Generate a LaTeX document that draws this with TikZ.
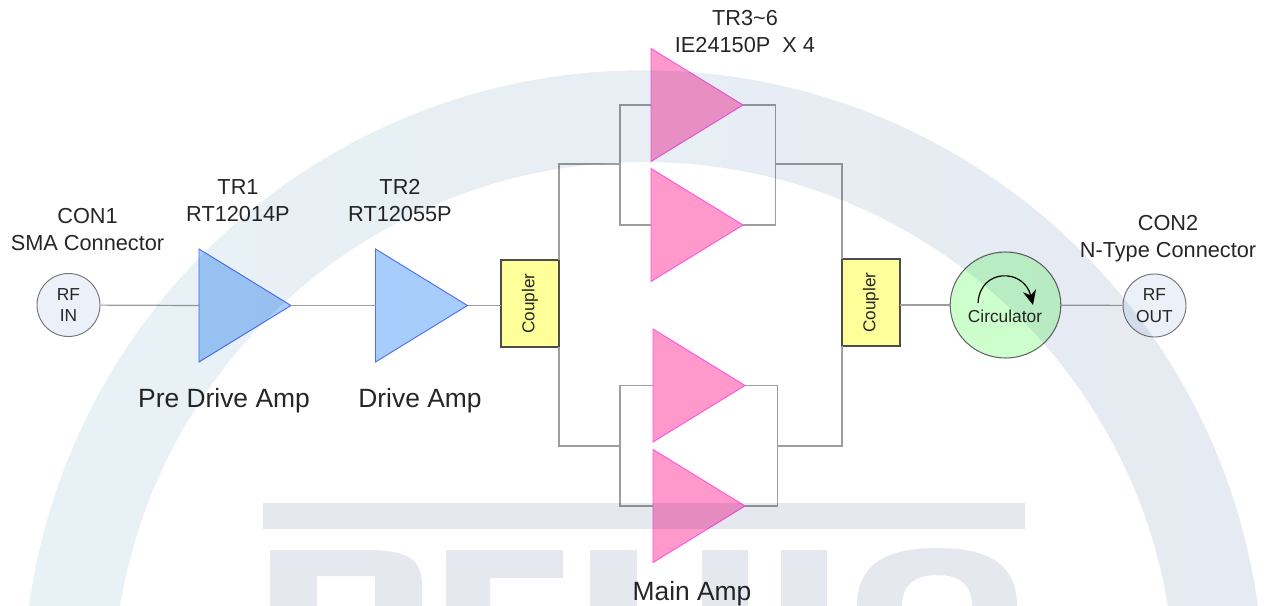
\documentclass[tikz,border=0pt]{standalone}
\usepackage{fontspec}
\setmainfont{Liberation Sans}
\usetikzlibrary{arrows.meta,shapes.geometric}
\definecolor{wirecol}{HTML}{9E9E9E}
\definecolor{txtcol}{HTML}{262626}
\definecolor{markL}{HTML}{E8F2F6}
\definecolor{markR}{HTML}{E6EAF2}
\definecolor{markB}{HTML}{E6E8EF}
\definecolor{pink1}{HTML}{FF99CC}
\definecolor{pink2}{HTML}{FF55E0}
\definecolor{blue1}{HTML}{A6CDFB}
\definecolor{blue2}{HTML}{4F6FF0}
\definecolor{portcol}{HTML}{ECF0F8}
\definecolor{yel1}{HTML}{FFFF99}
\definecolor{grn1}{HTML}{CCFFCC}
\tikzset{
    % 1 unit is one pixel of the sheet
    wire/.style={draw=wirecol, line width=0.9pt},
    amp/.style={
           isosceles triangle,
           isosceles triangle stretches,
           shape border rotate=0,
           anchor=apex,
           minimum width=84.75pt,
           minimum height=69pt,
           inner sep=0pt,
           outer sep=0pt,
           line width=0.7pt},
    blueamp/.style={amp, draw=blue2, fill=blue1},
    pinkamp/.style={amp, draw=pink2, fill=pink1},
    port/.style={
           circle,
           draw=black!55,
           fill=portcol,
           line width=0.7pt,
           minimum size=47.25pt,
           inner sep=0pt,
           align=center,
           text=txtcol,
           font=\fontsize{13}{16}\selectfont},
    coupler/.style={
           rectangle,
           draw=black!70,
           fill=yel1,
           line width=1pt,
           minimum width=43.5pt,
           minimum height=65pt,
           inner sep=0pt,
           outer sep=0pt},
    small/.style={align=center, text=txtcol, font=\fontsize{16.3}{20.25}\selectfont},
    big/.style={text=txtcol, font=\fontsize{19.8}{24}\selectfont}
}
\begin{document}
\begin{tikzpicture}[x=0.75pt,y=-0.75pt]
\useasboundingbox (0,0) rectangle (1268,606);

\node[port] (rfin) at (68.5,305) {RF\\IN};
\node[blueamp] (tr1) at (291,305.5) {};
\node[blueamp] (tr2) at (467.5,305.5) {};
\node[coupler] (cpl1) at (530,303.5) {};
\node[coupler] (cpl2) at (871,302.5) {};
\node[rotate=90, text=txtcol, font=\fontsize{12.9}{15}\selectfont] (cpl1txt) at (530,303.5) {Coupler};
\node[rotate=90, text=txtcol, font=\fontsize{12.9}{15}\selectfont] (cpl2txt) at (871,302.5) {Coupler};
\node[ellipse, draw=black!60, fill=grn1, line width=0.8pt, minimum width=83pt, minimum height=79.5pt, inner sep=0pt] (circ) at (1005.5,305) {};
\node[port] (rfout) at (1154.5,305.5) {RF\\OUT};

\node[pinkamp] (tr3) at (743,105) {};
\node[pinkamp] (tr4) at (743,225) {};
\node[pinkamp] (tr5) at (745,385.5) {};
\node[pinkamp] (tr6) at (745,506) {};

% junctions on the splitter and combiner rails
\coordinate (jl1) at (620,164);
\coordinate (jl2) at (620,446);
\coordinate (jr1) at (775.5,164);
\coordinate (jr2) at (777.5,446);

\draw[wire] (rfin) -- (tr1.lower side);
\draw[wire] (tr1.apex) -- (tr2.lower side);
\draw[wire] (tr2.apex) -- (tr2.apex -| cpl1.west);
\draw[wire] (cpl2.east |- circ) -- (circ);
\draw[wire] (circ) -- (rfout);

\draw[wire] (tr3.lower side) -| (jl1) |- (tr4.lower side);
\draw[wire] (tr3.apex) -| (jr1) |- (tr4.apex);
\draw[wire] (tr5.lower side) -| (jl2) |- (tr6.lower side);
\draw[wire] (tr5.apex) -| (jr2) |- (tr6.apex);
\draw[wire] (cpl1.north east) |- (jl1);
\draw[wire] (cpl1.south east) |- (jl2);
\draw[wire] (cpl2.north west) |- (jr1);
\draw[wire] (cpl2.south west) |- (jr2);

% arrow inside the circulator
\coordinate (arcs) at (978,303);
\coordinate (arce) at (1033,305);
\draw[black, line width=0.9pt, -{Stealth[length=11pt,width=10pt]}] (arcs) .. controls (980,268) and (1024,268) .. (arce);
\node[font=\fontsize{13}{15}\selectfont, text=txtcol] (circtxt) at (1005,316) {Circulator};

\node[small] (con1) at (87.5,230) {CON1\\SMA Connector};
\node[small] (lab1) at (238,201) {TR1\\RT12014P};
\node[small] (lab2) at (400,201) {TR2\\RT12055P};
\node[small] (lab3) at (745,32) {TR3\textasciitilde6\\IE24150P\ \ X 4};
\node[small] (con2) at (1168,238.5) {CON2\\N-Type Connector};
\node[big] (pre) at (224,401) {Pre Drive Amp};
\node[big] (drv) at (420,401) {Drive Amp};
\node[big] (mainamp) at (692,594) {Main Amp};

% watermark, laid over everything
\begin{scope}[blend mode=multiply]
\clip (0,0) rectangle (1268,606);
\path[even odd rule, left color=markL, right color=markR] (643.5,690.3) circle (620) (644,693) circle (531);
\fill[markB] (263,503) rectangle (1025,529);
% R
\fill[markB] (270,620) -- (270,550) -- (368,550) .. controls (405,550) and (422,558) .. (422,585) -- (422,620) -- (375,620) -- (375,576) -- (317,576) -- (317,620) -- cycle;
% F
\fill[markB] (446,620) -- (446,550) -- (563,550) -- (563,578) -- (490,578) -- (490,620) -- cycle;
% H and I
\fill[markB] (590,550) rectangle (637,620);
\fill[markB] (702,550) rectangle (748,620);
\fill[markB] (781,550) rectangle (827,620);
% C
\fill[markB] (857,620) -- (857,606) .. controls (857,565) and (885,548) .. (937,548) .. controls (990,548) and (1017,565) .. (1017,606) -- (1017,620) -- (972,620) -- (972,606) .. controls (972,585) and (960,575) .. (937,575) .. controls (915,575) and (902,585) .. (902,606) -- (902,620) -- cycle;
\end{scope}
\end{tikzpicture}
\end{document}
